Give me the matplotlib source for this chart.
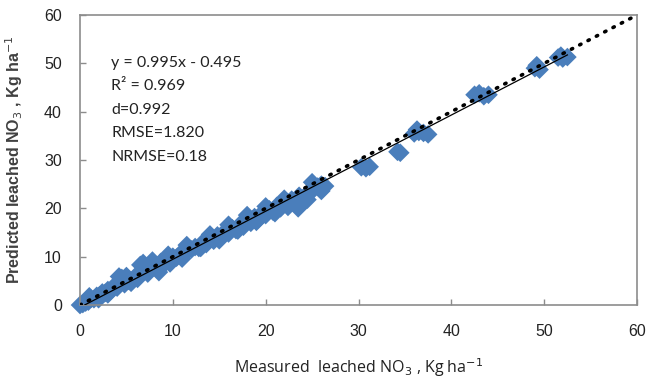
import matplotlib.pyplot as plt

# measured vs predicted leached NO3
measured = [0.0, 0.3, 0.6, 0.9, 1.2, 1.5, 1.8, 2.1, 2.4, 2.7, 3.0, 3.3, 3.6, 4.0, 4.2, 4.5,
            4.8, 5.2, 5.5, 5.9, 6.2, 6.5, 6.8, 7.0, 7.3, 7.6, 8.0, 8.3, 8.7, 9.0, 9.3, 9.7,
            10.0, 10.4, 10.8, 11.2, 11.6, 12.0, 12.4, 12.8, 13.2, 13.6, 14.0, 14.4, 14.8,
            15.2, 15.6, 16.0, 16.4, 16.8, 17.2, 17.6, 18.0, 18.4, 18.8, 19.2, 19.6, 20.0,
            20.4, 20.8, 21.2, 21.6, 22.0, 22.4, 22.8, 23.2, 23.6, 24.0, 24.4, 24.8, 25.2,
            25.6, 26.0, 26.4,
            1.0, 2.0, 3.0, 5.0, 7.8, 8.5, 9.5, 11.0, 11.5, 13.0, 14.0, 15.0, 16.0, 17.0,
            18.0, 19.0, 20.0, 21.0, 22.0, 23.5, 24.5, 25.0, 26.0,
            30.3, 30.8, 31.2, 34.2, 34.5, 36.0, 36.5, 37.0, 37.5, 36.3,
            42.5, 43.0, 43.5, 44.0, 49.0, 49.5, 49.2, 51.5, 52.0, 52.5, 51.8]
predicted = [0.0, 0.2, 0.5, 0.7, 1.3, 1.2, 1.9, 2.0, 2.6, 2.5, 3.1, 2.9, 3.8, 3.6, 5.9, 5.6,
             4.3, 5.0, 4.6, 5.8, 5.4, 8.3, 8.7, 7.6, 6.5, 7.9, 8.5, 7.4, 8.9, 8.3, 9.2, 8.6,
             10.0, 9.8, 10.6, 10.5, 11.4, 11.5, 12.0, 11.8, 12.9, 12.6, 13.6, 13.3, 14.4,
             14.1, 15.2, 14.8, 15.9, 15.5, 16.6, 16.2, 17.4, 17.0, 18.2, 17.7, 19.0, 18.6,
             19.8, 19.3, 20.5, 20.0, 21.2, 20.3, 21.8, 20.8, 22.6, 21.2, 22.8, 23.6, 24.0,
             24.5, 24.9, 24.6,
             1.8, 1.2, 2.2, 6.0, 9.2, 6.8, 10.4, 9.6, 12.4, 11.8, 14.6, 13.4, 16.6, 15.4,
             18.6, 17.2, 20.4, 19.0, 22.0, 20.0, 21.8, 25.4, 23.6,
             28.5, 28.3, 28.6, 31.7, 31.5, 35.5, 35.8, 35.6, 35.3, 36.3,
             43.5, 43.8, 43.2, 43.5, 49.0, 48.7, 49.6, 51.2, 51.0, 51.3, 51.6]

slope = 0.995
intercept = -0.495
fit_x = [0.5, 52.5]
one_to_one = [0, 60]

stats_text = ["y = 0.995x - 0.495", "R\u00b2 = 0.969", "d=0.992", "RMSE=1.820", "NRMSE=0.18"]

fig = plt.figure(figsize=(6.51, 3.89), dpi=100)
ax = fig.add_axes([0.1229, 0.2159, 0.8556, 0.7455])

ax.scatter(measured, predicted, marker='D', s=90, color='#4A7EBB', edgecolors='none',
           zorder=2, clip_on=False)
ax.plot(fit_x, [slope * v + intercept for v in fit_x], color='black', lw=0.9, zorder=3)
ax.plot(one_to_one, one_to_one, color='black', lw=2.6, linestyle=(0, (0.4, 2.2)),
        dash_capstyle='round', zorder=3)

ax.set_xlim(0, 60)
ax.set_ylim(0, 60)
ax.set_xticks(range(0, 61, 10))
ax.set_yticks(range(0, 61, 10))

for s in ax.spines.values():
    s.set_color('#8c8c8c')
    s.set_linewidth(1.2)

ax.tick_params(axis='both', direction='in', length=4, color='#8c8c8c', width=1,
               labelsize=11.5, labelcolor='#222222')
ax.tick_params(axis='x', pad=14)
ax.tick_params(axis='y', pad=13)
for lab in ax.get_xticklabels() + ax.get_yticklabels():
    lab.set_fontfamily('Liberation Sans')

for i, line in enumerate(stats_text):
    ax.text(0.056, 0.835 - i * 0.081, line, transform=ax.transAxes, fontsize=11.5,
            family='Lato', color='#222222', va='center')

ax.set_xlabel("Measured  leached NO$_3$ , Kg ha$^{-1}$", fontsize=11.5, family='Open Sans',
              color='#222222', labelpad=12)
ax.set_ylabel("Predicted leached NO$_3$ , Kg ha$^{-1}$", fontsize=11.5, family='Liberation Sans',
              fontweight='bold', color='#404040', labelpad=14)

plt.savefig("out.png", dpi=100)
